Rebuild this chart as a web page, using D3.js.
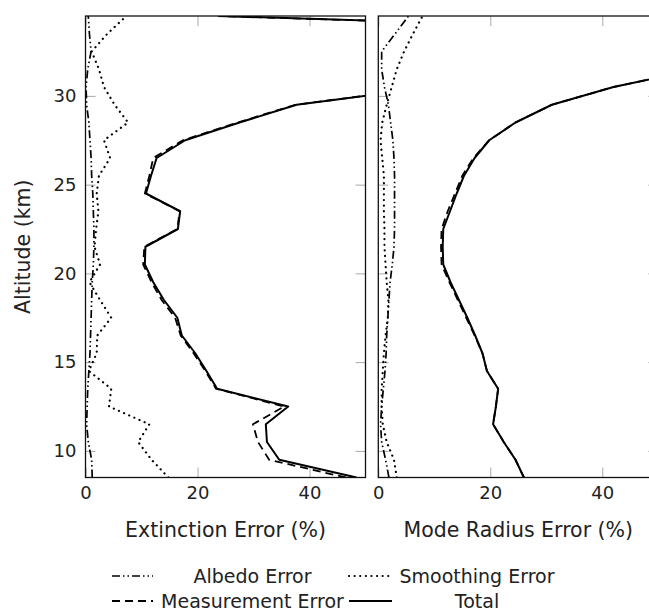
<!DOCTYPE html>
<html>
<head>
<meta charset="utf-8">
<script src="https://cdn.jsdelivr.net/npm/d3@7"></script>
<style>
  body { margin: 0; background: #fff; }
  text { font-family: "DejaVu Sans", "Open Sans", sans-serif; fill: #222; }
</style>
</head>
<body>
<svg id="chart" width="649" height="615"></svg>
<script>
// Retrieval altitudes (km)
const altitude = [8.5, 9.5, 10.5, 11.5, 12.5, 13.5, 14.5, 15.5, 16.5, 17.5, 18.5, 19.5, 20.5,
  21.5, 22.5, 23.5, 24.5, 25.5, 26.5, 27.5, 28.5, 29.5, 30.5, 31.5, 32.5, 33.5, 34.5];

// Extinction error budget (%)
const extAlbedo = [1.2, 1.1, 0.5, 0.2, 0.3, 0.4, 0.6, 0.8, 0.9, 1.0, 1.1, 1.2, 1.4,
  1.5, 1.5, 1.4, 1.3, 1.1, 1.0, 0.8, 0.6, 0.2, 0.1, 0.4, 1.0, 0.7, 0.5];
const extMeasurement = [46.5, 32.8, 30.8, 29.9, 35.5, 23.3, 21.4, 19.3, 17.0, 16.0, 13.6, 11.8, 10.3,
  10.5, 16.4, 16.8, 10.6, 11.4, 12.1, 17.4, 27.2, 37.5, 62, 90, 110, 125, 23.7];
const extSmoothing = [14.8, 11.8, 9.4, 11.4, 4.2, 4.6, 0.6, 2.0, 2.1, 4.6, 2.6, 0.7, 2.6,
  1.6, 1.9, 2.3, 2.0, 2.4, 4.4, 3.3, 7.6, 5.2, 3.3, 2.4, 1.1, 3.9, 7.3];
const extTotal = [48.4, 34.6, 32.4, 32.2, 36.2, 23.5, 21.6, 19.6, 17.2, 16.4, 14.0, 12.1, 10.6,
  10.7, 16.5, 16.9, 10.8, 11.7, 12.7, 17.8, 27.5, 37.7, 62, 90, 110, 125, 23.7];

// Mode radius error budget (%)
const radAlbedo = [1.9, 1.3, 0.6, 0.4, 0.6, 0.9, 1.2, 1.4, 1.5, 1.7, 1.9, 2.1, 2.5,
  2.8, 2.9, 2.9, 2.9, 2.9, 2.8, 2.6, 2.2, 1.8, 1.1, 0.6, 0.6, 3.0, 5.4];
const radMeasurement = [26.0, 24.5, 22.4, 20.5, 21.0, 21.4, 19.4, 18.6, 17.2, 15.7, 14.2, 12.7, 11.3,
  11.2, 11.3, 12.4, 13.7, 15.0, 17.0, 19.8, 24.5, 31.0, 42.0, 57, 72, 88, 105];
const radSmoothing = [3.3, 2.8, 1.5, 0.8, 0.6, 0.6, 0.8, 1.0, 1.3, 1.7, 1.8, 1.5, 1.3,
  1.1, 1.1, 1.0, 1.0, 1.0, 0.7, 0.4, 0.7, 1.5, 2.4, 3.3, 4.6, 6.2, 7.9];
const radTotal = [26.0, 24.5, 22.4, 20.5, 21.0, 21.4, 19.4, 18.6, 17.3, 15.9, 14.4, 12.9, 11.6,
  11.5, 11.6, 12.8, 14.0, 15.3, 17.2, 19.8, 24.5, 31.0, 42.0, 57, 72, 88, 105];

const xTicks = [0, 20, 40];
const yTicks = [10, 15, 20, 25, 30];
const xDomain = [0, 50];
const yDomain = [8.5, 34.5];

const seriesNames = ["Albedo Error", "Smoothing Error", "Measurement Error", "Total"];

// Line styles per error component
const styles = {
  "Albedo Error":      { dash: "8,3,1.5,3,1.5,3", width: 1.7, cap: "butt" },
  "Smoothing Error":   { dash: "0.1,5.5", width: 2.2, cap: "round" },
  "Measurement Error": { dash: "8,5", width: 1.8, cap: "butt" },
  "Total":             { dash: null, width: 2.0, cap: "butt" }
};

const svg = d3.select("#chart");
const plotTop = 16, plotBottom = 477.5;
const y = d3.scaleLinear().domain(yDomain).range([plotBottom, plotTop]);

const panels = [
  { id: "ext", x0: 85.5, x1: 365.5, label: "Extinction Error (%)", showY: true,
    series: { "Albedo Error": extAlbedo, "Smoothing Error": extSmoothing,
              "Measurement Error": extMeasurement, "Total": extTotal } },
  { id: "rad", x0: 378.3, x1: 658.3, label: "Mode Radius Error (%)", showY: false,
    series: { "Albedo Error": radAlbedo, "Smoothing Error": radSmoothing,
              "Measurement Error": radMeasurement, "Total": radTotal } }
];

const tickColor = "#a8a8a8";
const titleSize = "20.5px";
const legendSize = "19px";

panels.forEach(p => {
  const x = d3.scaleLinear().domain(xDomain).range([p.x0, p.x1]);
  const g = svg.append("g");

  g.append("clipPath").attr("id", "clip-" + p.id)
    .append("rect").attr("x", p.x0).attr("y", plotTop)
    .attr("width", p.x1 - p.x0).attr("height", plotBottom - plotTop);

  // inward ticks on all four sides
  const styleAxis = sel => {
    sel.select(".domain").remove();
    sel.selectAll(".tick line").attr("stroke", tickColor).attr("stroke-width", 1);
    sel.selectAll(".tick text").style("font-size", "18px").attr("fill", "#222");
  };
  g.append("g").attr("transform", `translate(0,${plotBottom})`)
    .call(d3.axisBottom(x).tickValues(xTicks).tickSizeInner(-10).tickSizeOuter(0).tickPadding(9))
    .call(styleAxis);
  g.append("g").attr("transform", `translate(0,${plotTop})`)
    .call(d3.axisTop(x).tickValues(xTicks).tickSizeInner(-10).tickSizeOuter(0).tickFormat(""))
    .call(styleAxis);
  g.append("g").attr("transform", `translate(${p.x0},0)`)
    .call(d3.axisLeft(y).tickValues(yTicks).tickSizeInner(-10).tickSizeOuter(0).tickPadding(9)
      .tickFormat(p.showY ? d3.format("d") : ""))
    .call(styleAxis);
  g.append("g").attr("transform", `translate(${p.x1},0)`)
    .call(d3.axisRight(y).tickValues(yTicks).tickSizeInner(-10).tickSizeOuter(0).tickFormat(""))
    .call(styleAxis);

  // error profiles
  const line = d3.line().x(d => x(d[0])).y(d => y(d[1]));
  const lines = g.append("g").attr("clip-path", `url(#clip-${p.id})`);
  ["Smoothing Error", "Albedo Error", "Total", "Measurement Error"].forEach(name => {
    const s = styles[name];
    const pts = p.series[name].map((v, i) => [v, altitude[i]]);
    lines.append("path").attr("d", line(pts))
      .attr("fill", "none").attr("stroke", "#000")
      .attr("stroke-width", s.width)
      .attr("stroke-linecap", s.cap)
      .attr("stroke-linejoin", "round")
      .attr("stroke-dasharray", s.dash);
  });

  // frame
  g.append("rect").attr("x", p.x0).attr("y", plotTop)
    .attr("width", p.x1 - p.x0).attr("height", plotBottom - plotTop)
    .attr("fill", "none").attr("stroke", "#111").attr("stroke-width", 1.3);

  g.append("text").attr("x", (p.x0 + p.x1) / 2).attr("y", 537)
    .attr("text-anchor", "middle").style("font-size", titleSize).text(p.label);
});

// y-axis title
svg.append("text")
  .attr("transform", `translate(30,${(plotTop + plotBottom) / 2}) rotate(-90)`)
  .attr("text-anchor", "middle").style("font-size", titleSize).text("Altitude (km)");

// legend, two columns
const legendCols = [
  { sx: 112, sw: 41, tx: 252.5 },
  { sx: 349, sw: 43, tx: 477 }
];
const legendRows = [576, 601];
seriesNames.forEach((name, i) => {
  const col = legendCols[i % 2], ly = legendRows[Math.floor(i / 2)];
  const s = styles[name];
  svg.append("line").attr("x1", col.sx).attr("x2", col.sx + col.sw)
    .attr("y1", ly).attr("y2", ly)
    .attr("stroke", "#000").attr("stroke-width", s.width)
    .attr("stroke-linecap", s.cap).attr("stroke-dasharray", s.dash);
  svg.append("text").attr("x", col.tx).attr("y", ly + 6.5)
    .attr("text-anchor", "middle").style("font-size", legendSize).text(name);
});
</script>
</body>
</html>
